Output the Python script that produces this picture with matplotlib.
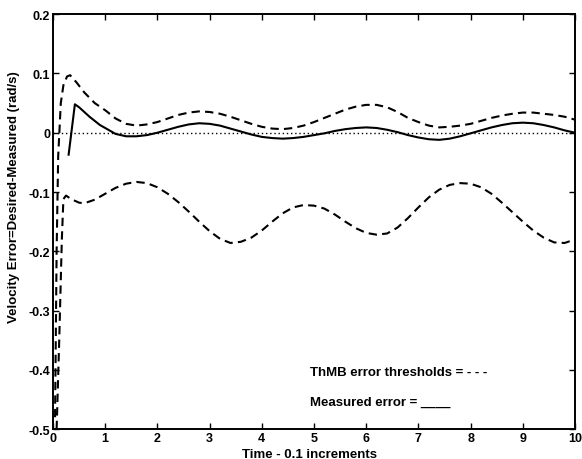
import matplotlib
matplotlib.use("Agg")
import matplotlib.pyplot as plt

# 上阈值 (ThMB error threshold, upper)
t_upper = [0.04, 0.07, 0.10, 0.15, 0.20, 0.27, 0.33, 0.45, 0.6, 0.8, 1.0, 1.2, 1.4, 1.6, 1.8,
           2.0, 2.2, 2.4, 2.6, 2.8, 3.0, 3.2, 3.4, 3.6, 3.8, 4.0, 4.2, 4.4, 4.6, 4.8,
           5.0, 5.2, 5.4, 5.6, 5.8, 6.0, 6.2, 6.4, 6.6, 6.8, 7.0, 7.2, 7.4, 7.6, 7.8,
           8.0, 8.2, 8.4, 8.6, 8.8, 9.0, 9.2, 9.4, 9.6, 9.8, 10.0]
v_upper = [-0.48, -0.20, -0.04, 0.050, 0.080, 0.095, 0.097, 0.085, 0.068, 0.050, 0.038, 0.024, 0.015, 0.012, 0.014,
           0.018, 0.024, 0.030, 0.034, 0.036, 0.035, 0.032, 0.027, 0.021, 0.015, 0.010, 0.007, 0.006, 0.008, 0.012,
           0.018, 0.025, 0.032, 0.039, 0.044, 0.047, 0.047, 0.043, 0.035, 0.025, 0.018, 0.012, 0.009, 0.010, 0.012,
           0.015, 0.020, 0.025, 0.029, 0.032, 0.034, 0.034, 0.032, 0.030, 0.027, 0.022]

# 下阈值
t_lower = [0.07, 0.12, 0.17, 0.20, 0.25, 0.35, 0.5, 0.6, 0.8, 1.0, 1.2, 1.4, 1.6, 1.8,
           2.0, 2.2, 2.4, 2.6, 2.8, 3.0, 3.2, 3.4, 3.6, 3.8, 4.0, 4.2, 4.4, 4.6, 4.8,
           5.0, 5.2, 5.4, 5.6, 5.8, 6.0, 6.2, 6.4, 6.6, 6.8, 7.0, 7.2, 7.4, 7.6, 7.8,
           8.0, 8.2, 8.4, 8.6, 8.8, 9.0, 9.2, 9.4, 9.6, 9.8, 10.0]
v_lower = [-0.500, -0.350, -0.180, -0.112, -0.106, -0.112, -0.118, -0.119, -0.113, -0.103, -0.093, -0.086, -0.083, -0.085,
           -0.092, -0.103, -0.117, -0.133, -0.150, -0.166, -0.179, -0.186, -0.184, -0.177, -0.165, -0.150, -0.136, -0.126, -0.122,
           -0.123, -0.128, -0.138, -0.150, -0.161, -0.169, -0.172, -0.170, -0.160, -0.144, -0.126, -0.109, -0.096, -0.088, -0.085,
           -0.086, -0.092, -0.103, -0.118, -0.134, -0.150, -0.165, -0.177, -0.185, -0.186, -0.180]

# 实测误差
t_meas = [0.30, 0.42, 0.5, 0.6, 0.7, 0.8, 0.9, 1.0, 1.1, 1.2, 1.4, 1.6, 1.8,
          2.0, 2.2, 2.4, 2.6, 2.8, 3.0, 3.2, 3.4, 3.6, 3.8, 4.0, 4.2, 4.4, 4.6, 4.8,
          5.0, 5.2, 5.4, 5.6, 5.8, 6.0, 6.2, 6.4, 6.6, 6.8, 7.0, 7.2, 7.4, 7.6, 7.8,
          8.0, 8.2, 8.4, 8.6, 8.8, 9.0, 9.2, 9.4, 9.6, 9.8, 10.0]
v_meas = [-0.037, 0.048, 0.043, 0.035, 0.027, 0.020, 0.013, 0.008, 0.003, -0.002, -0.006, -0.006, -0.004,
          0.000, 0.005, 0.010, 0.014, 0.016, 0.015, 0.012, 0.007, 0.002, -0.003, -0.007, -0.009, -0.010, -0.009, -0.007,
          -0.004, -0.001, 0.003, 0.006, 0.008, 0.009, 0.008, 0.005, 0.001, -0.004, -0.008, -0.011, -0.012, -0.010, -0.006,
          -0.001, 0.004, 0.009, 0.013, 0.016, 0.017, 0.016, 0.013, 0.009, 0.004, 0.000]

x_ticks = [0, 1, 2, 3, 4, 5, 6, 7, 8, 9, 10]
y_ticks = [0.2, 0.1, 0, -0.1, -0.2, -0.3, -0.4, -0.5]
y_labels = ["0.2", "0.1", "0", "-0.1", "-0.2", "-0.3", "-0.4", "-0.5"]

plt.rcParams["font.family"] = ["Liberation Sans", "DejaVu Sans"]
plt.rcParams["font.weight"] = "bold"

fig = plt.figure(figsize=(5.82, 4.60), dpi=100)
ax = fig.add_axes([0.091, 0.065, 0.897, 0.902])

ax.plot([0, 10], [0, 0], color="black", linestyle=(0, (1, 2)), linewidth=1.0)
ax.plot(t_upper, v_upper, color="black", linestyle=(0, (4, 2.5)), linewidth=1.5)
ax.plot(t_lower, v_lower, color="black", linestyle=(0, (4, 2.5)), linewidth=1.5)
ax.plot(t_meas, v_meas, color="black", linestyle="-", linewidth=1.5)

ax.set_xlim(0, 10)
ax.set_ylim(-0.5, 0.2)
ax.set_xticks(x_ticks)
ax.set_yticks(y_ticks)
ax.set_yticklabels(y_labels)
ax.tick_params(direction="in", top=True, right=True, length=4, width=1.0,
               labelsize=9, pad=2)
for lab in ax.get_xticklabels() + ax.get_yticklabels():
    lab.set_fontweight("bold")
for s in ax.spines.values():
    s.set_linewidth(1.4)

ax.set_xlabel("Time - 0.1 increments", fontsize=9.5, fontweight="bold")
ax.xaxis.set_label_coords(0.492, -0.045)
ax.set_ylabel("Velocity Error=Desired-Measured (rad/s)", fontsize=9.5, fontweight="bold")
ax.yaxis.set_label_coords(-0.063, 0.561)

ax.text(4.92, -0.403, "ThMB error thresholds = - - -", fontsize=9.5, fontweight="bold", va="center")
ax.text(4.92, -0.454, "Measured error = ____", fontsize=9.5, fontweight="bold", va="center")

fig.savefig("out.png", dpi=100)
